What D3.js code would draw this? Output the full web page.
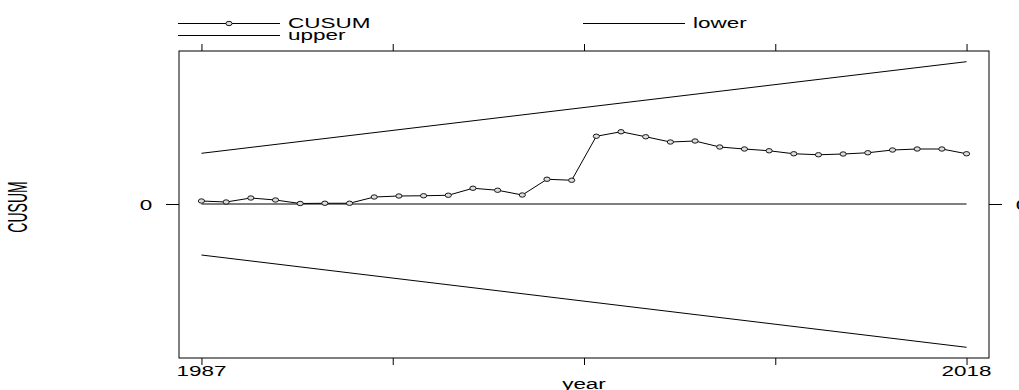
<!DOCTYPE html>
<html>
<head>
<meta charset="utf-8">
<script src="https://cdn.jsdelivr.net/npm/d3@7"></script>
<style>
  body { margin: 0; background: #fff; }
  text { font-family: "Liberation Sans", Arial, sans-serif; fill: #000; }
</style>
</head>
<body>
<div id="chart-holder"></div>
<script>
// data
var years = d3.range(1987, 2019);
var cusum = [0.06, 0.04, 0.12, 0.08, 0.01, 0.015, 0.015, 0.14, 0.16, 0.165, 0.175,
             0.315, 0.275, 0.18, 0.495, 0.475, 1.355, 1.445, 1.345, 1.24, 1.26,
             1.14, 1.10, 1.065, 1.005, 0.985, 1.0, 1.025, 1.08, 1.10, 1.10, 1.005];
var boundYears = [1987, 2018];
var upper = [1.014, 2.846];
var lower = [-1.02, -2.866];
var xTicks = [1987, 1994.75, 2002.5, 2010.25, 2018];
var xTickLabels = ['1987', '', '', '', '2018'];
var yTicks = [0];
var legendItems = ['CUSUM', 'upper', 'lower'];

function buildChart(containerId) {
    var width = 1019;
    var height = 390;

    // plot frame
    var frame = { left: 179, right: 989, top: 51, bottom: 358 };
    var textScale = 1.55;

    var svg = d3
        .select(containerId)
        .append('svg')
        .attr('width', width)
        .attr('height', height);

    var x = d3
        .scaleLinear()
        .domain([1987 - 0.91, 2018 + 0.91])
        .range([frame.left, frame.right]);

    var y = d3
        .scaleLinear()
        .domain([-3.08, 3.06])
        .range([frame.bottom, frame.top]);

    // stretched text like the original device
    function label(px, py, str, anchor, size) {
        svg.append('text')
            .attr('transform', 'translate(' + px + ',' + py + ') scale(' + textScale + ',1)')
            .attr('text-anchor', anchor)
            .style('font-size', (size || 14.5) + 'px')
            .text(str);
    }

    // frame
    svg.append('rect')
        .attr('x', frame.left)
        .attr('y', frame.top)
        .attr('width', frame.right - frame.left)
        .attr('height', frame.bottom - frame.top)
        .attr('fill', 'none')
        .attr('stroke', '#000')
        .attr('stroke-width', 1);

    // x ticks top and bottom
    var xAxisBottom = d3.axisBottom(x).tickValues(xTicks).tickSize(7).tickSizeOuter(0).tickFormat('');
    var xAxisTop = d3.axisTop(x).tickValues(xTicks).tickSize(7).tickSizeOuter(0).tickFormat('');

    var gb = svg.append('g')
        .attr('transform', 'translate(0,' + frame.bottom + ')')
        .call(xAxisBottom);
    var gt = svg.append('g')
        .attr('transform', 'translate(0,' + frame.top + ')')
        .call(xAxisTop);

    // y ticks left and right
    var yAxisLeft = d3.axisLeft(y).tickValues(yTicks).tickSize(13).tickSizeOuter(0).tickFormat('');
    var yAxisRight = d3.axisRight(y).tickValues(yTicks).tickSize(13).tickSizeOuter(0).tickFormat('');

    var gl = svg.append('g')
        .attr('transform', 'translate(' + frame.left + ',0)')
        .call(yAxisLeft);
    var gr = svg.append('g')
        .attr('transform', 'translate(' + frame.right + ',0)')
        .call(yAxisRight);

    [gb, gt, gl, gr].forEach(function(g) {
        g.select('.domain').remove();
        g.selectAll('line').attr('stroke', '#000');
    });

    // tick labels
    xTicks.forEach(function(t, i) {
        if (xTickLabels[i]) label(x(t), 376, xTickLabels[i], 'middle');
    });
    yTicks.forEach(function(t) {
        label(frame.left - 33, y(t) + 5.5, String(t), 'middle');
        label(frame.right + 33, y(t) + 5.5, String(t), 'middle');
    });

    // axis titles
    label(x(2002.5), 389, 'year', 'middle');

    svg.append('text')
        .attr('transform', 'translate(27,207) scale(1.96,1) rotate(-90)')
        .attr('text-anchor', 'middle')
        .style('font-size', '14px')
        .text('CUSUM');

    // zero reference line
    svg.append('line')
        .attr('x1', x(boundYears[0]))
        .attr('x2', x(boundYears[1]))
        .attr('y1', y(0))
        .attr('y2', y(0))
        .attr('stroke', '#000')
        .attr('stroke-width', 1);

    // boundaries
    var bline = d3.line()
        .x(function(d, i) { return x(boundYears[i]); })
        .y(function(d) { return y(d); });

    [upper, lower].forEach(function(b) {
        svg.append('path')
            .attr('d', bline(b))
            .attr('fill', 'none')
            .attr('stroke', '#000')
            .attr('stroke-width', 1);
    });

    // cusum path
    var cline = d3.line()
        .x(function(d, i) { return x(years[i]); })
        .y(function(d) { return y(d); });

    svg.append('path')
        .attr('d', cline(cusum))
        .attr('fill', 'none')
        .attr('stroke', '#000')
        .attr('stroke-width', 1);

    svg.selectAll('.pt')
        .data(cusum)
        .enter()
        .append('ellipse')
        .attr('class', 'pt')
        .attr('cx', function(d, i) { return x(years[i]); })
        .attr('cy', function(d) { return y(d); })
        .attr('rx', 3.1)
        .attr('ry', 2.2)
        .attr('fill', '#ddd')
        .attr('stroke', '#000')
        .attr('stroke-width', 0.9);

    // legend
    var legendPos = [
        { x: 178, y: 23.5, marker: true },
        { x: 178, y: 35.5, marker: false },
        { x: 583, y: 23.5, marker: false }
    ];
    legendItems.forEach(function(name, i) {
        var p = legendPos[i];
        svg.append('line')
            .attr('x1', p.x)
            .attr('x2', p.x + 102)
            .attr('y1', p.y)
            .attr('y2', p.y)
            .attr('stroke', '#000')
            .attr('stroke-width', 1);
        if (p.marker) {
            svg.append('ellipse')
                .attr('cx', p.x + 51)
                .attr('cy', p.y)
                .attr('rx', 3.1)
                .attr('ry', 2.2)
                .attr('fill', '#ddd')
                .attr('stroke', '#000')
                .attr('stroke-width', 0.9);
        }
        label(p.x + 110, p.y + 4, name, 'start');
    });
}

buildChart('#chart-holder');
</script>
</body>
</html>
